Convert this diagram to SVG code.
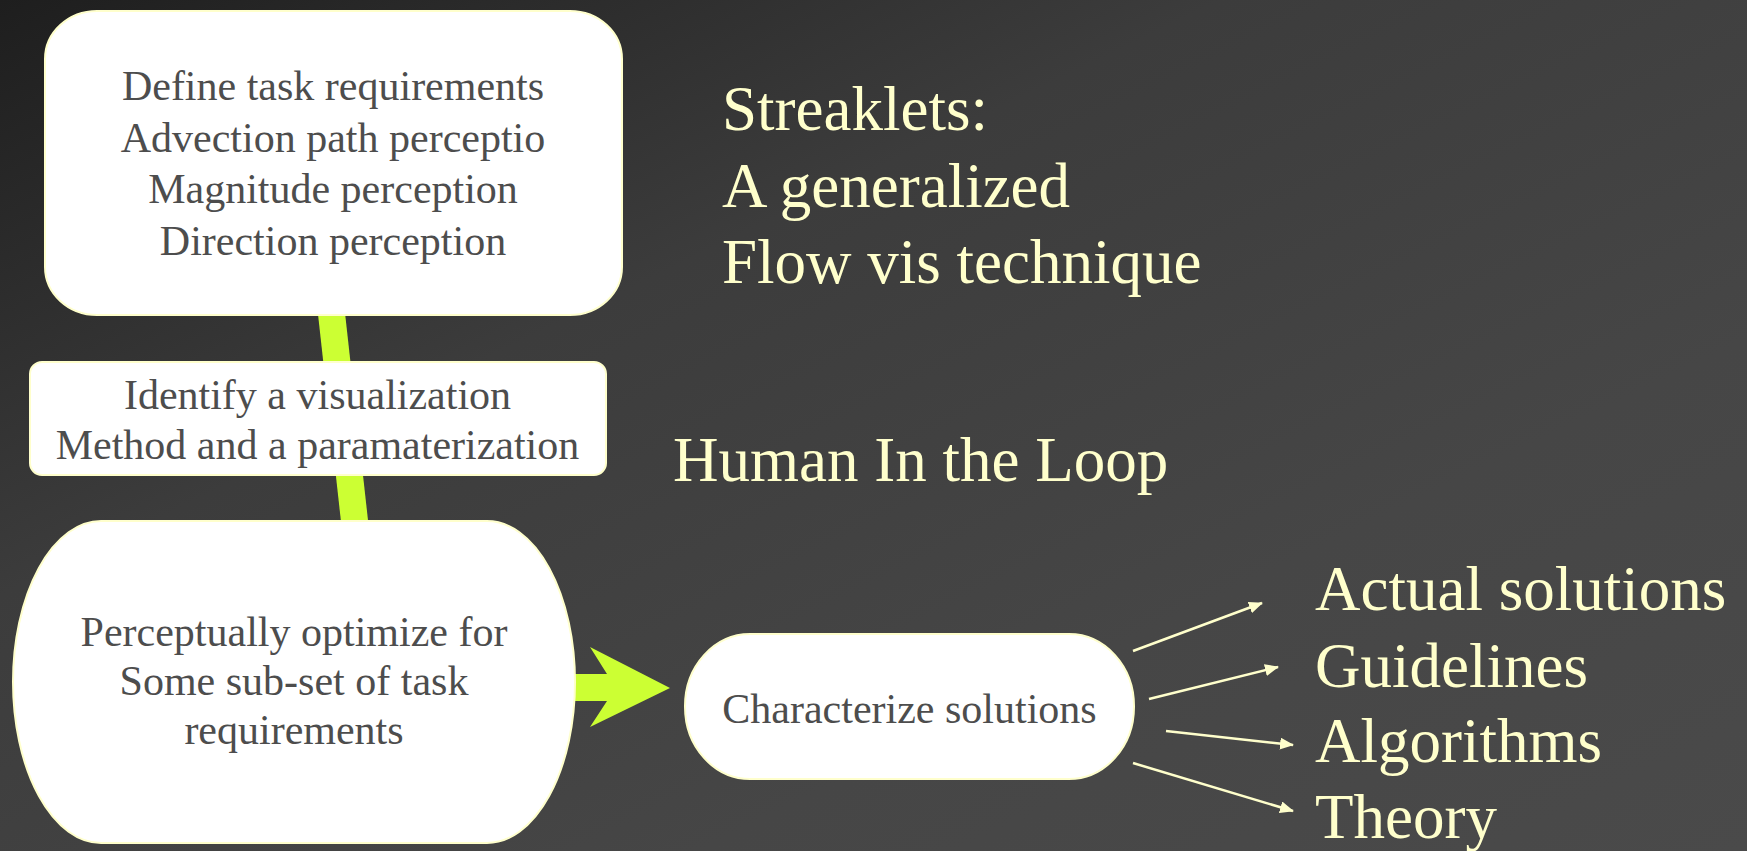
<svg xmlns="http://www.w3.org/2000/svg" width="1747" height="851" viewBox="0 0 1747 851">
<defs>
<linearGradient id="bg" x1="0" y1="0" x2="1" y2="1" gradientUnits="objectBoundingBox">
<stop offset="0" stop-color="#1e1e1e"/>
<stop offset="0.35" stop-color="#3c3c3c"/>
<stop offset="0.7" stop-color="#464646"/>
<stop offset="1" stop-color="#4a4a4a"/>
</linearGradient>
<marker id="ah" markerWidth="14" markerHeight="12" refX="13" refY="6" orient="auto" markerUnits="userSpaceOnUse">
<path d="M0,0 L14,6 L0,12 Z" fill="#ffffcc"/>
</marker>
<style>
.box{fill:#ffffff;stroke:#ffffcc;stroke-width:2}
.bt{font-family:"Liberation Serif","Times New Roman",serif;font-size:42px;fill:#4d4d4d;text-anchor:middle}
.tt{font-family:"Liberation Serif","Times New Roman",serif;font-size:63px;fill:#ffffcc}
.thin{stroke:#ffffcc;stroke-width:2.5;fill:none;marker-end:url(#ah)}
</style>
</defs>
<rect x="0" y="0" width="1747" height="851" fill="url(#bg)"/>
<g id="connectors">
<line x1="330" y1="300" x2="355.5" y2="530" stroke="#ccff33" stroke-width="27"/>
<polygon points="574,674 607,674 590,647 670,688 590,727 607,701 574,701" fill="#ccff33"/>
<line class="thin" x1="1133" y1="651" x2="1262" y2="603"/>
<line class="thin" x1="1149" y1="699" x2="1278" y2="667"/>
<line class="thin" x1="1166" y1="731" x2="1293" y2="745"/>
<line class="thin" x1="1133" y1="763" x2="1293" y2="811"/>
</g>
<g id="define">
<rect class="box" x="45" y="11" width="577" height="304" rx="52" ry="48"/>
<text class="bt" x="333" y="100">Define task requirements</text>
<text class="bt" x="333" y="152">Advection path perceptio</text>
<text class="bt" x="333" y="203">Magnitude perception</text>
<text class="bt" x="333" y="255">Direction perception</text>
</g>
<g id="identify">
<rect class="box" x="30" y="362" width="576" height="113" rx="12" ry="12"/>
<text class="bt" x="317.5" y="409">Identify a visualization</text>
<text class="bt" x="317.5" y="459">Method and a paramaterization</text>
</g>
<g id="optimize">
<rect class="box" x="13" y="521" width="562" height="322" rx="88" ry="161"/>
<text class="bt" x="294" y="646">Perceptually optimize for</text>
<text class="bt" x="294" y="695">Some sub-set of task</text>
<text class="bt" x="294" y="744">requirements</text>
</g>
<g id="characterize">
<rect class="box" x="685" y="634" width="449" height="145" rx="65" ry="72"/>
<text class="bt" x="909.5" y="723">Characterize solutions</text>
</g>
<g id="title">
<text class="tt" x="722" y="130">Streaklets:</text>
<text class="tt" x="722" y="207">A generalized</text>
<text class="tt" x="722" y="283">Flow vis technique</text>
</g>
<g id="human">
<text class="tt" x="673" y="481">Human In the Loop</text>
</g>
<g id="outcomes">
<text class="tt" x="1315" y="610">Actual solutions</text>
<text class="tt" x="1315" y="687">Guidelines</text>
<text class="tt" x="1315" y="762">Algorithms</text>
<text class="tt" x="1315" y="838">Theory</text>
</g>
</svg>
